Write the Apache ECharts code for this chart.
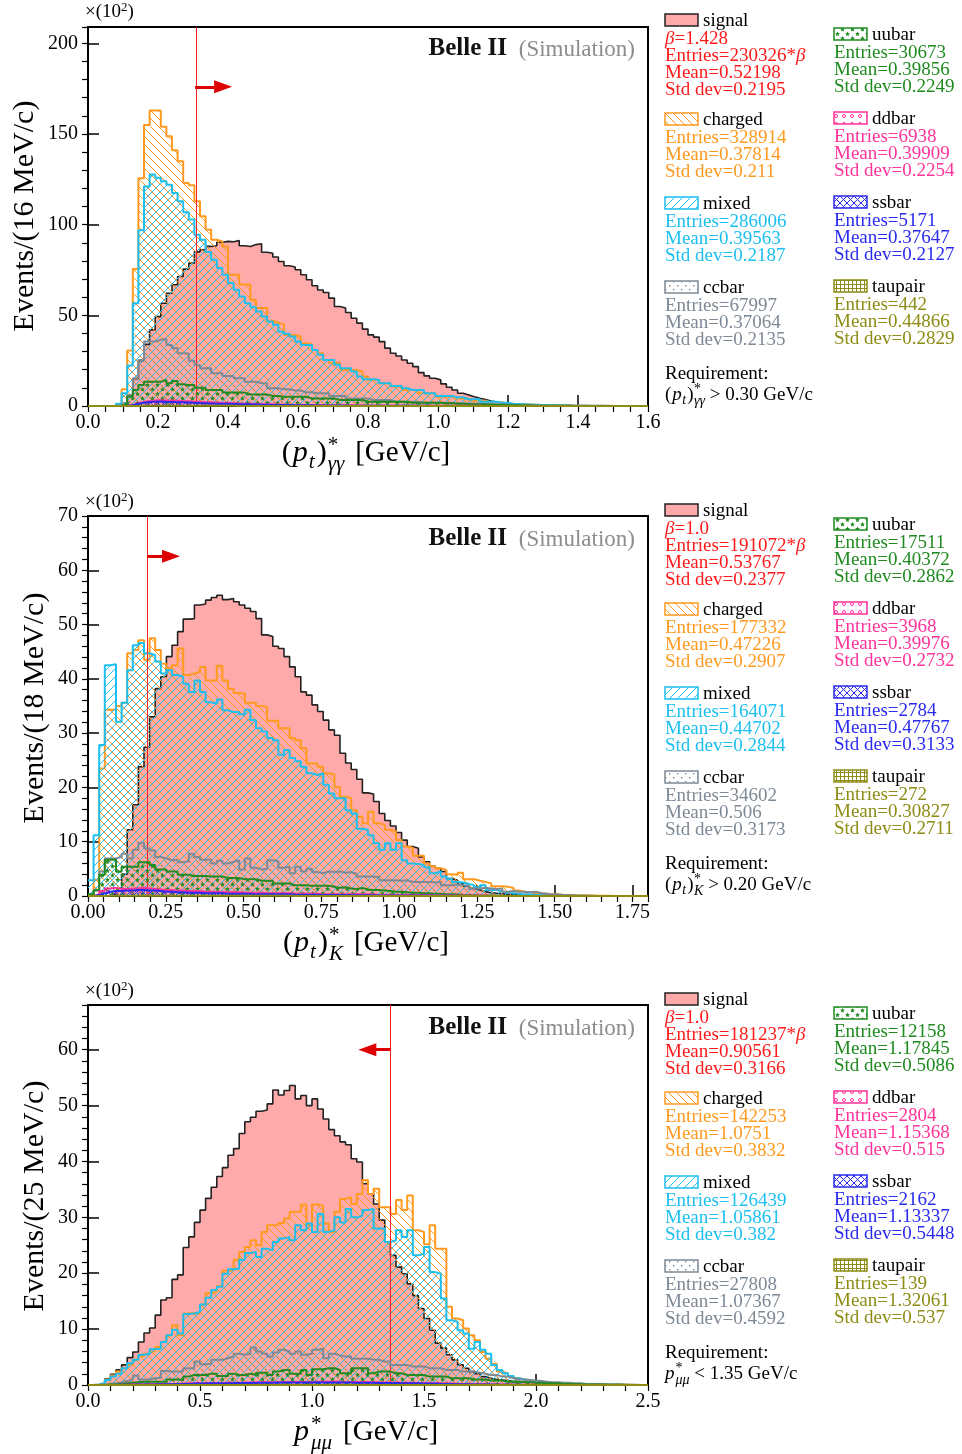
<!DOCTYPE html>
<html><head><meta charset="utf-8">
<script src="https://cdn.jsdelivr.net/npm/echarts@6/dist/echarts.min.js"></script>
<style>html,body{margin:0;padding:0;background:#fff}#c{width:962px;height:1454px}</style>
</head><body><div id="c"></div>
<script>
// ---------------- DATA (values in units of 10^2 events per bin) ----------------
const nBins = 100;
const binWidth = [0.016, 0.018, 0.025];
const xTickLabels1 = ['0.0','0.2','0.4','0.6','0.8','1.0','1.2','1.4','1.6'];
const xTickLabels2 = ['0.00','0.25','0.50','0.75','1.00','1.25','1.50','1.75'];
const xTickLabels3 = ['0.0','0.5','1.0','1.5','2.0','2.5'];
const categories = ['signal','charged','mixed','ccbar','uubar','ddbar','ssbar','taupair'];

// panel 1 : (pt)*_gg
const signal1 = [0,0,0,0,0,0.3,1.5,6,15,25, 34,42,49.3,56.7,62.2,66.9,71.4,75.5,78.8,85, 86.2,88,88.4,90.3,90.8,90.6,91.2,88.4,88,89, 89.5,84.8,84.2,82.2,79.7,77.3,76.6,75.1,72.4,69.6, 66.3,64,62.6,59.5,54.9,54,51.6,48.4,45.7,42.4, 39.2,38,35.5,31.9,29.1,27.6,25.4,23.6,21.7,18.4, 16.6,15.3,14.4,12.2,10.3,8.8,7,6.1,5.1,4.3, 3.6,2.8,2.2,1.6,1.4,1.2,0.9,0.8,0.6,0.5, 0.4,0.35,0.3,0.25,0.2,0.2,0.15,0.1,0.1,0.1, 0.05,0.05,0.05,0.05,0.05,0,0,0,0,0];
const charged1 = [0,0,0,0,0,1,9.2,30.6,75.5,125.6, 155,163,163,154,148.8,141,135,123,121.7,112.9, 104.6,97.2,91.7,90.8,88,72.4,72.4,67,67,58.6, 54,54,47,46,45,39.2,39.2,38.3,34.6,34, 30.9,29.1,25.4,23.9,23.9,19.9,19.9,19.9,19,16.2, 14.4,14.4,12.5,12.5,10.7,10.7,8.8,8.8,8.8,7, 7,7,5.1,5.1,5.1,4.2,4.2,4.2,2.9,2.9, 2.9,2,2,2,1.4,1.2,1,0.9,0.8,0.7, 0.6,0.5,0.4,0.4,0.3,0.3,0.2,0.2,0.2,0.1, 0.1,0.1,0.1,0.05,0.05,0.05,0.05,0,0,0];
const mixed1 = [0,0,0,0,0,1.2,7,22.3,56.7,96.9, 121,127.6,125.8,123.9,122,117.5,112.9,106.8,102.8,94.5, 91.7,84.9,80.7,76.1,72.4,67.8,64.1,60.4,56.7,54.5, 52.1,49.3,46.6,44.8,41,39.8,38.3,35.5,33.7,33.7, 30.9,28.2,25.4,25.4,22.7,20.8,20.8,19,16.2,14.7, 14.7,14.4,12.5,12.5,11,11,9.8,8.8,8.8,8.8, 7,7,5.5,5.5,5.5,4.8,4.8,3.7,3.7,3.7, 2.4,2.4,2.4,1.8,1.8,1.1,1.1,0.9,0.8,0.7, 0.6,0.5,0.4,0.4,0.3,0.3,0.2,0.2,0.15,0.1, 0.1,0.1,0.05,0.05,0.05,0.05,0,0,0,0];
const ccbar1 = [0,0,0,0,0,0.3,1,6,15.3,25.4, 35.5,35.5,36.5,37,33.7,32,29.1,29,25,22.6, 20.8,20.8,18,18,16.6,16.6,15.3,15.3,13.4,13.4, 12.5,12.5,9.8,9.8,9.2,9.2,8.5,8.5,7.6,7.6, 7,7,7,5.5,5.5,5.5,4.2,4.2,4.2,4.2, 3.3,3.3,3.3,3.3,2.4,2.4,2.4,2.4,2.4,1.8, 1.8,1.8,1.8,1.8,1.8,1.5,1.5,1.4,1.3,1.2, 1.1,1,0.9,0.8,0.7,0.6,0.5,0.5,0.4,0.4, 0.3,0.3,0.2,0.2,0.2,0.15,0.1,0.1,0.1,0.05];
const uubar1 = [0,0,0,0,0,0.2,1,5.2,8.8,11.6, 13.4,13.4,13.4,14.4,12.5,13.8,12,11.6,11.6,10.1, 10.1,8.8,8.8,8.8,7.4,7.4,7.4,7.4,6.4,6.4, 6.4,6.4,5.5,5.5,5.1,5.1,5.1,5.1,5.1,4.2, 4.2,4.2,4.2,4.2,3.3,3.3,3.3,3.3,3.3,2.4, 2.4,2.4,2.4,2.4,2.4,2.4,2.4,1.8,1.8,1.8, 1.8,1.8,1.8,1.5,1.5,1.2,1.2,1,1,0.9, 0.8,0.7,0.6,0.5,0.5,0.4,0.4,0.3,0.3,0.2, 0.2,0.2,0.15,0.1,0.1,0.1,0.05,0.05,0.05,0.05];
const ddbar1 = [0,0,0,0,0,0,0.1,0.5,1.5,2.2, 2.8,3.1,3.2,3.1,3,2.9,2.7,2.6,2.4,2.3, 2.1,2,1.9,1.7,1.6,1.5,1.4,1.3,1.2,1.1, 1,0.9,0.9,0.8,0.7,0.7,0.6,0.6,0.5,0.5, 0.4,0.4,0.3,0.3,0.3,0.3,0.3,0.3,0.3,0.3, 0.2,0.2,0.2,0.2,0.2,0.2,0.2,0.2,0.2,0.2, 0.1,0.1,0.1,0.1,0.1,0.1,0.1,0.1,0.1,0.1, 0.05,0.05,0.05,0.05,0.05];
const ssbar1 = [0,0,0,0,0,0,0.1,0.4,1.2,1.8, 2.2,2.4,2.5,2.3,2.2,2.1,2,1.9,1.8,1.6, 1.5,1.4,1.3,1.2,1.2,1.1,1,0.9,0.9,0.8, 0.7,0.7,0.6,0.6,0.5,0.5,0.4,0.4,0.4,0.4, 0.3,0.3,0.3,0.3,0.3,0.3,0.2,0.2,0.2,0.2, 0.2,0.2,0.2,0.1,0.1,0.1,0.1,0.1,0.1,0.1, 0.1,0.05,0.05,0.05,0.05];
const taupair1 = [0,0,0,0,0,0,0,0.02,0.05,0.07, 0.08,0.09,0.09,0.09,0.09,0.08,0.08,0.08,0.08,0.08, 0.07,0.07,0.07,0.07,0.07,0.07,0.06,0.06,0.06,0.06, 0.06,0.06,0.05,0.05,0.05,0.05,0.05,0.05,0.05,0.05, 0.04,0.04,0.04,0.04,0.04,0.04,0.04,0.04,0.03,0.03, 0.03,0.03,0.03,0.03,0.03,0.03,0.02,0.02,0.02,0.02, 0.02,0.02,0.02,0.02,0.01,0.01,0.01,0.01,0.01,0.01];

// panel 2 : (pt)*_K
const signal2 = [0,0,0,0,0.3,1,4,12.2,16.8,23.8, 27.4,33,38.2,40.4,44.1,46.2,48.7,51,51.1,53.6, 53.8,54.5,55,55.4,54.6,54.8,54.2,53.6,53,52.4, 51.1,48.1,47.8,46,45.6,44.1,42.2,40.4,37.6,37, 35.2,34,32.4,30.6,29.6,26.3,24.5,23.3,21.5,19, 18.8,17.4,15.2,13.9,12.9,11.7,10.3,9.1,8.8,7.2, 6.3,5.5,5.1,4.5,3.2,2.9,2.3,1.8,1.4,1.1, 0.8,0.6,0.5,0.4,0.3,0.3,0.2,0.2,0.15,0.1, 0.1,0.1,0.05,0.05,0.05,0.05,0.05];
const charged2 = [0.3,3,23.5,34.3,34.3,35,35.6,44.7,45.3,47.1, 43.5,47.5,45.3,42.8,42,42.5,45.6,40.7,41,41.3, 42.2,39.7,39.7,42.4,39.7,38.2,37.4,37.3,35.6,35.6, 35,34.8,32.3,32.3,30.9,30.9,29.1,28.7,27.2,24.4, 24.4,23.8,22.6,22.4,20.1,18.3,18,15.8,14.6,13.4, 15.5,13.4,13.1,12.2,11.9,10.3,9.1,8.9,7.4,7.4, 6,5.5,5.1,4.8,4,3.9,4.3,3.1,3.1,2.8, 2.6,2.3,1.8,1.8,1.7,1.5,1,0.8,0.7,0.5, 0.5,0.4,0.3,0.3,0.2,0.2,0.15,0.1,0.1,0.1, 0.05,0.05,0.05];
const mixed2 = [2.9,11.2,27.8,42.5,42.7,32.1,35.6,41.6,46.2,46.6, 44.7,44.4,43.2,41,41.6,40.7,40.4,39.1,37.6,39.7, 37.6,35.7,35.4,36.2,34.2,33.9,33.9,33.5,34.3,32.4, 30.9,30.3,29.1,28.7,26,26.9,25.4,24.8,23.8,22.6, 22.3,22.6,20.5,18.9,18,18,15.8,15.2,12.4,12.2, 11.2,9.7,8.5,9.7,8.5,9.7,6.6,6,5.9,5.7, 5.3,4.2,4.5,3.6,3.2,2.6,2.5,2.2,2,1.6, 2,1.1,1.1,0.8,0.6,0.5,0.4,0.3,0.3,0.2, 0.2,0.15,0.1,0.1,0.1,0.05,0.05];
const ccbar2 = [0.3,1.1,4.5,6.9,6.9,7.2,7.8,6.9,8.5,9.8, 8.8,8.4,7.2,6.9,6.6,6.7,6.2,6.4,7.8,7.2, 6.7,6.7,6,6.5,6,6.3,6.6,4.9,6.9,5.2, 4.9,5,6.6,6.4,5.2,5.4,4.2,5.4,4.5,5, 4.4,4.2,4.5,4.4,4.5,4.3,4.4,4.1,3.6,3.6, 3.6,3.5,2.9,2.9,2.9,2.8,2.9,2.6,2.6,2.6, 2.6,2.5,2.6,2,2,2.1,2,1.9,1.4,1.4, 1.5,1.4,1.3,1.4,0.8,0.9,0.8,0.8,0.7,0.8, 0.5,0.4,0.3,0.3,0.2,0.2,0.1,0.1,0.1,0.05];
const uubar2 = [0.3,1,3.9,6.7,6.7,4.5,5.4,5.4,5.4,6.2, 6.2,5.7,4.9,4.9,4.5,4.5,3.9,3.9,3.7,3.7, 3.7,3.6,3.6,3.6,3.3,3.3,3.3,3.1,3.1,3.1, 2.8,2.8,2.8,2.3,2.3,2.3,2,2,2,1.9, 1.9,1.9,1.9,1.7,1.5,1.6,1.4,1.3,1.5,1.2, 1.1,1.1,1,0.9,0.8,0.8,0.7,0.6,0.6,0.5, 0.5,0.4,0.4,0.3,0.3,0.3,0.2,0.2,0.15,0.1, 0.1,0.1,0.05,0.05];
const ddbar2 = [0,0.3,0.9,1.4,1.5,1.3,1.3,1.4,1.4,1.5, 1.4,1.3,1.2,1.1,1.1,1,1,0.9,0.9,0.9, 0.8,0.8,0.8,0.7,0.7,0.7,0.7,0.6,0.6,0.6, 0.6,0.5,0.5,0.5,0.5,0.5,0.4,0.4,0.4,0.4, 0.4,0.3,0.3,0.3,0.3,0.3,0.3,0.3,0.3,0.3, 0.3,0.2,0.2,0.2,0.2,0.2,0.2,0.2,0.2,0.2, 0.2,0.1,0.1,0.1,0.1,0.1,0.1,0.1,0.1,0.1, 0.1];
const ssbar2 = [0,0.2,0.5,0.8,0.9,0.9,1,1,1.1,1.1, 1,1,0.9,0.8,0.8,0.7,0.7,0.6,0.6,0.6, 0.5,0.5,0.5,0.5,0.4,0.4,0.4,0.4,0.4,0.3, 0.3,0.3,0.3,0.3,0.3,0.3,0.25,0.25,0.25,0.25, 0.25,0.2,0.2,0.2,0.2,0.2,0.15,0.15,0.15,0.15, 0.15,0.1,0.1,0.1,0.1,0.1,0.1,0.1,0.1,0.1, 0.1,0.05,0.05,0.05,0.05];
const taupair2 = [0,0,0.02,0.03,0.03,0.04,0.04,0.04,0.04,0.04, 0.04,0.04,0.04,0.04,0.04,0.04,0.04,0.04,0.04,0.04, 0.04,0.03,0.03,0.03,0.03,0.03,0.03,0.03,0.03,0.03, 0.03,0.03,0.03,0.03,0.03,0.03,0.02,0.02,0.02,0.02, 0.02,0.02,0.02,0.02,0.02,0.02,0.02,0.02,0.02,0.02, 0.01,0.01,0.01,0.01,0.01,0.01,0.01,0.01,0.01,0.01];

// panel 3 : p*_mumu
const signal3 = [0,0.1,0.3,1.1,1.9,2.7,3.6,4.9,5.9,7.7, 9.3,10.2,12.5,15.2,15.6,18.9,19.7,24.6,26.5,29.1, 31.3,33.4,35.4,37.3,38.9,41.1,42.3,45,47.1,47.9, 49,49.2,50.3,52.8,51.9,52.7,53.6,51.2,51.8,50, 51.2,49.4,47.6,45.7,44.6,43.5,43,40.5,39.9,36, 34.2,32.4,29.5,25.6,23.2,21.1,19.9,18.1,16,13.7, 11.9,9.8,7.5,6.6,5.4,4.5,3.6,3,2.4,2, 1.5,1.2,1,0.9,0.8,0.6,0.6,0.5,0.5,0.4, 0.4,0.3,0.3,0.3,0.2,0.2,0.2,0.2,0.1,0.1, 0.1,0.1,0.1,0.1,0.1,0.05,0.05,0.05,0.05,0.05];
const charged3 = [0,0.1,0.4,1,1.7,2.4,3,3.6,4.5,5.2, 5.6,6,6.8,7.7,8.9,10.7,8.9,12.8,12.9,12.7, 14.4,16.4,16.7,17.7,20.5,20.5,22.4,23.8,24.7,25.9, 25,27.4,28.6,28.6,29,29.8,31,31,32.3,28.6, 32.3,32.1,28.9,27.4,31,33.3,33.6,32.4,34.2,36.7, 34.2,35.1,31.8,31.8,30.6,33.1,31.3,33.9,27.7,27.4, 25.2,28.6,24.4,24.4,14,11.9,11.6,10.1,8.9,8, 5.9,4.7,3.8,2.4,2.1,1.6,1.2,1,0.8,0.6, 0.5,0.4,0.3,0.3,0.2,0.2,0.15,0.1,0.1,0.1, 0.1,0.05,0.05,0.05,0.05,0.05,0.05,0,0,0];
const mixed3 = [0,0.1,0.3,0.9,1.5,2,3,3.9,4.5,5.4, 5.6,6.4,6.5,7.7,8.9,9.9,9.2,12.7,12.8,13.1, 14.4,15.6,17,17.6,19.9,20.7,20.8,22.4,23.6,23.8, 22.9,24.4,24.1,25.6,26.2,26.5,25.9,28.6,27.7,28.9, 27.4,30.6,27.4,27.7,30,29.1,31.5,30,30.3,31.3, 31.5,28,28,25.6,25.9,27.7,26.5,27.7,23.2,23.5, 24.7,20.2,19.9,15.5,11.6,11.3,9.8,9.2,6.5,7.7, 6.3,5.6,3.6,2.7,2.1,1.6,1.2,1,0.8,0.6, 0.5,0.4,0.3,0.3,0.2,0.2,0.15,0.1,0.1,0.1, 0.05,0.05,0.05,0.05,0.05,0,0,0,0,0];
const ccbar3 = [0,0,0.1,0.2,0.3,0.5,0.7,1,1.7,1, 1,1.2,1.3,2.5,2.4,2.4,2.4,3,3,4.2, 3.7,3.8,4.5,4.5,4.8,5.1,5.6,5.4,5.6,6.7, 6,5.6,5.1,5.8,6.3,6,5.6,6,5.4,5.6, 6.3,6.5,4.8,5.6,5.3,5.1,5.1,4.7,4.7,4.7, 4.5,4.5,4.2,4.2,3.6,3.6,3.6,3.3,3.3,3.3, 3,3,3,2.7,2.7,2.7,2.4,2.4,2.4,2.2, 2,1.8,1.8,1.5,1.5,1.2,1,1,0.9,0.8, 0.7,0.6,0.5,0.5,0.4,0.4,0.3,0.3,0.2,0.2, 0.2,0.15,0.1,0.1,0.1,0.05,0.05,0.05,0,0];
const uubar3 = [0,0,0,0.1,0.1,0.2,0.3,0.4,0.5,0.6, 0.6,0.6,0.6,0.6,1,1,1,1.5,1.8,1.8, 1.8,2,2,1.6,1.6,2,1.8,1.8,2,1.8, 2.2,2.2,1.8,2.4,2.7,2.7,2,2,2.7,1.8, 2.8,2.8,3,3,2.7,2.1,2.1,3,3,3, 2.1,2.4,2.4,2.4,2.1,2.1,1.8,1.8,1.8,1.8, 1.5,1.5,1.5,1.5,1.2,1.2,1.2,1.2,1,1, 1,0.8,0.8,0.8,0.6,0.6,0.6,0.5,0.5,0.4, 0.4,0.3,0.3,0.3,0.2,0.2,0.2,0.15,0.1,0.1, 0.1,0.1,0.05,0.05,0.05,0.05,0,0,0,0];
const ddbar3 = [0,0,0,0,0,0.05,0.05,0.1,0.1,0.1, 0.15,0.15,0.15,0.2,0.2,0.2,0.25,0.25,0.3,0.3, 0.3,0.35,0.35,0.35,0.4,0.4,0.4,0.45,0.45,0.45, 0.5,0.5,0.5,0.5,0.55,0.55,0.55,0.55,0.55,0.55, 0.6,0.6,0.6,0.6,0.6,0.55,0.55,0.55,0.55,0.5, 0.5,0.5,0.45,0.45,0.45,0.4,0.4,0.4,0.35,0.35, 0.3,0.3,0.3,0.25,0.25,0.2,0.2,0.2,0.15,0.15, 0.15,0.1,0.1,0.1,0.1,0.05,0.05,0.05,0.05,0.05];
const ssbar3 = [0,0,0,0,0,0.05,0.05,0.05,0.1,0.1, 0.1,0.1,0.15,0.15,0.15,0.2,0.2,0.2,0.25,0.25, 0.25,0.3,0.3,0.3,0.3,0.35,0.35,0.35,0.35,0.4, 0.4,0.4,0.4,0.45,0.45,0.45,0.45,0.45,0.45,0.45, 0.5,0.45,0.45,0.45,0.45,0.45,0.45,0.4,0.4,0.4, 0.4,0.35,0.35,0.35,0.35,0.3,0.3,0.3,0.3,0.25, 0.25,0.25,0.2,0.2,0.2,0.15,0.15,0.15,0.1,0.1, 0.1,0.1,0.05,0.05,0.05,0.05,0.05];
const taupair3 = [0,0,0,0,0,0,0,0,0,0, 0.01,0.01,0.01,0.01,0.01,0.01,0.01,0.01,0.01,0.01, 0.01,0.01,0.01,0.01,0.01,0.01,0.02,0.02,0.02,0.02, 0.02,0.02,0.02,0.02,0.02,0.02,0.02,0.02,0.02,0.02, 0.02,0.02,0.02,0.02,0.02,0.02,0.02,0.02,0.02,0.02, 0.02,0.02,0.02,0.02,0.02,0.02,0.02,0.02,0.02,0.02, 0.02,0.02,0.02,0.02,0.01,0.01,0.01,0.01,0.01,0.01, 0.01,0.01,0.01,0.01,0.01,0.01,0.01,0.01,0.01,0.01];

// statistics boxes
const beta = ['1.428', '1.0', '1.0'];
const entries1 = ['230326','328914','286006','67997','30673','6938','5171','442'];
const means1   = ['0.52198','0.37814','0.39563','0.37064','0.39856','0.39909','0.37647','0.44866'];
const stds1    = ['0.2195','0.211','0.2187','0.2135','0.2249','0.2254','0.2127','0.2829'];
const entries2 = ['191072','177332','164071','34602','17511','3968','2784','272'];
const means2   = ['0.53767','0.47226','0.44702','0.506','0.40372','0.39976','0.47767','0.30827'];
const stds2    = ['0.2377','0.2907','0.2844','0.3173','0.2862','0.2732','0.3133','0.2711'];
const entries3 = ['181237','142253','126439','27808','12158','2804','2162','139'];
const means3   = ['0.90561','1.0751','1.05861','1.07367','1.17845','1.15368','1.13337','1.32061'];
const stds3    = ['0.3166','0.3832','0.382','0.4592','0.5086','0.515','0.5448','0.537'];
const cuts = [0.306, 0.19, 1.35];
const cutText = ['0.30', '0.20', '1.35'];
const yTitles = ['Events/(16 MeV/c)', 'Events/(18 MeV/c)', 'Events/(25 MeV/c)'];

// ---------------- STYLE ----------------
const FAM = '"Liberation Serif","DejaVu Serif",serif';
const COL = {signal:'#ff1a1a', charged:'#ff9a1f', mixed:'#1bbff0', ccbar:'#7d8995', uubar:'#1f8a1f', ddbar:'#ff3399', ssbar:'#2a2af0', taupair:'#8c8c14'};

function mkTile(w, h, draw) {
  const c = document.createElement('canvas'); c.width = w; c.height = h;
  const g = c.getContext('2d'); draw(g, w, h); return {image: c, repeat: 'repeat'};
}
const PAT = {
  signal: '#ffaaaa',
  charged: mkTile(8, 8, (g, w, h) => { g.strokeStyle = COL.charged; g.lineWidth = 1; g.beginPath(); for (let k = -1; k <= 1; k++) { g.moveTo(k*w, 0); g.lineTo(k*w + w, h); } g.stroke(); }),
  mixed: mkTile(8, 8, (g, w, h) => { g.strokeStyle = COL.mixed; g.lineWidth = 1; g.beginPath(); for (let k = -1; k <= 1; k++) { g.moveTo(k*w, h); g.lineTo(k*w + w, 0); } g.stroke(); }),
  ccbar: mkTile(8, 8, (g) => { g.fillStyle = COL.ccbar; g.fillRect(1, 1, 1.4, 1.4); g.fillRect(5, 5, 1.4, 1.4); }),
  uubar: mkTile(10, 9, (g) => {
    g.fillStyle = COL.uubar;
    const star = (cx, cy, r) => { g.beginPath(); for (let k = 0; k < 10; k++) { const a = -Math.PI/2 + k*Math.PI/5; const rr = k % 2 ? r*0.45 : r; g.lineTo(cx + rr*Math.cos(a), cy + rr*Math.sin(a)); } g.closePath(); g.fill(); };
    star(2.5, 2.5, 2.6); star(7.5, 7, 2.6);
  }),
  ddbar: mkTile(8, 8, (g) => { g.strokeStyle = COL.ddbar; g.lineWidth = 1; g.beginPath(); g.arc(4, 4, 1.5, 0, Math.PI*2); g.stroke(); }),
  ssbar: mkTile(7, 7, (g, w, h) => { g.strokeStyle = COL.ssbar; g.lineWidth = 1; g.beginPath(); for (let k = -1; k <= 1; k++) { g.moveTo(k*w, 0); g.lineTo(k*w + w, h); g.moveTo(k*w, h); g.lineTo(k*w + w, 0); } g.stroke(); }),
  taupair: mkTile(4, 4, (g) => { g.fillStyle = COL.taupair; g.fillRect(0, 0, 4, 1); g.fillRect(0, 0, 1, 4); })
};

const panels = [
  { top: 27, h: 379, xmax: 1.6, ymax: 209, xInt: 0.2, xMin: 0.05, yInt: 50, yMin: 10, xLab: xTickLabels1,
    data: [signal1, charged1, mixed1, ccbar1, uubar1, ddbar1, ssbar1, taupair1], ent: entries1, mean: means1, std: stds1,
    arrowY: 176, arrowDx: 0.08, showMaxY: false, showMaxX: true, ytx: 25, yty: 216 },
  { top: 516, h: 380, xmax: 1.8, ymax: 70, xInt: 0.25, xMin: 0.05, yInt: 10, yMin: 2, xLab: xTickLabels2,
    data: [signal2, charged2, mixed2, ccbar2, uubar2, ddbar2, ssbar2, taupair2], ent: entries2, mean: means2, std: stds2,
    arrowY: 62.6, arrowDx: 0.077, showMaxY: true, showMaxX: false, ytx: 35, yty: 708 },
  { top: 1005, h: 380, xmax: 2.5, ymax: 68, xInt: 0.5, xMin: 0.1, yInt: 10, yMin: 2, xLab: xTickLabels3,
    data: [signal3, charged3, mixed3, ccbar3, uubar3, ddbar3, ssbar3, taupair3], ent: entries3, mean: means3, std: stds3,
    arrowY: 60, arrowDx: -0.103, showMaxY: false, showMaxX: true, ytx: 35, yty: 1196 }
];

function histPoints(vals, bw) {
  const pts = [];
  for (let i = 0; i < nBins; i++) pts.push([+(i*bw).toFixed(6), vals[i] || 0]);
  pts.push([+(nBins*bw).toFixed(6), vals[nBins-1] || 0]);
  return pts;
}

// text helpers
const mctx = document.createElement('canvas').getContext('2d');
function fstr(s) { return (s.i ? 'italic ' : '') + (s.b ? 'bold ' : '') + s.s + 'px ' + FAM; }
const R = (t, s, o) => Object.assign({t, s}, o || {});
const I = (t, s, o) => Object.assign({t, s, i: true}, o || {});
function mathText(segs, x, base, anchor, color) {
  const ws = segs.map(s => { mctx.font = fstr(s); return mctx.measureText(s.t).width; });
  let total = 0; segs.forEach((s, k) => { if (!s.na) total += ws[k] + (s.g || 0); });
  let cx = anchor === 'center' ? x - total/2 : x;
  const out = [];
  segs.forEach((s, k) => {
    out.push({type: 'text', silent: true, x: cx, y: base - 0.3*s.s + (s.dy || 0),
      style: {text: s.t, font: fstr(s), fill: s.c || color, align: 'left', verticalAlign: 'middle'}});
    if (!s.na) cx += ws[k] + (s.g || 0);
  });
  return out;
}

const graphics = [];
const series = [];
const grids = [], xAxes = [], yAxes = [];
const LF = 19; // legend font size

panels.forEach((P, p) => {
  const off = [0, 490, 979][p];
  grids.push({left: 88, top: P.top, width: 560, height: P.h, show: true, borderColor: '#000', borderWidth: 2, backgroundColor: 'transparent', outerBoundsMode: 'none', containLabel: false});
  const lab = {fontFamily: FAM, fontSize: 20, color: '#000'};
  xAxes.push({type: 'value', gridIndex: p, min: 0, max: P.xmax, interval: P.xInt,
    axisLine: {show: true, onZero: false, lineStyle: {color: '#000', width: 2}},
    axisTick: {show: true, inside: true, length: 11, lineStyle: {color: '#000', width: 1.5}},
    axisLabel: Object.assign({margin: 7, showMaxLabel: P.showMaxX, showMinLabel: true, hideOverlap: false,
      formatter: v => { const k = Math.round(v / P.xInt); return P.xLab[k] !== undefined && Math.abs(k*P.xInt - v) < 1e-6 ? P.xLab[k] : ''; }}, lab),
    splitLine: {show: false}});
  xAxes.push({type: 'value', gridIndex: p, min: 0, max: P.xmax, interval: P.xMin,
    axisLine: {show: false}, axisTick: {show: true, inside: true, length: 6, lineStyle: {color: '#000', width: 1.2}},
    axisLabel: {show: false}, splitLine: {show: false}});
  yAxes.push({type: 'value', gridIndex: p, min: 0, max: P.ymax, interval: P.yInt,
    axisLine: {show: true, onZero: false, lineStyle: {color: '#000', width: 2}},
    axisTick: {show: true, inside: true, length: 11, lineStyle: {color: '#000', width: 1.5}},
    axisLabel: Object.assign({margin: 10, showMaxLabel: P.showMaxY, hideOverlap: false, formatter: v => String(Math.round(v))}, lab),
    splitLine: {show: false}});
  yAxes.push({type: 'value', gridIndex: p, min: 0, max: P.ymax, interval: P.yMin,
    axisLine: {show: false}, axisTick: {show: true, inside: true, length: 6, lineStyle: {color: '#000', width: 1.2}},
    axisLabel: {show: false}, splitLine: {show: false}});

  const bw = binWidth[p];
  categories.forEach((name, k) => {
    const isSig = name === 'signal';
    series.push({
      name: name + p, type: 'line', xAxisIndex: 2*p, yAxisIndex: 2*p, step: 'end', symbol: 'none', showSymbol: false,
      silent: true, animation: false, z: 2 + k,
      data: histPoints(P.data[k], bw),
      lineStyle: {color: isSig ? '#222' : COL[name], width: isSig ? 1.6 : 2},
      areaStyle: {color: PAT[name], opacity: 1, origin: 'start'}
    });
  });
  // cut line
  series.push({type: 'line', xAxisIndex: 2*p, yAxisIndex: 2*p, data: [], silent: true, animation: false, z: 20,
    markLine: {silent: true, animation: false, symbol: ['none', 'none'], label: {show: false},
      lineStyle: {color: '#ff2020', width: 1, type: 'solid'}, data: [{xAxis: cuts[p]}]}});
  // arrow
  series.push({type: 'line', xAxisIndex: 2*p, yAxisIndex: 2*p, data: [], silent: true, animation: false, z: 21,
    markLine: {silent: true, animation: false, symbol: ['none', 'triangle'], symbolSize: [13, 18], label: {show: false},
      lineStyle: {color: '#dd0000', width: 3, type: 'solid', opacity: 1},
      data: [[{coord: [cuts[p], P.arrowY]}, {coord: [cuts[p] + P.arrowDx, P.arrowY]}]]}});

  // ----- texts -----
  graphics.push(...mathText([R('×(10', 19), R('2', 13, {dy: -7}), R(')', 19)], 85, 18 + off, 'left', '#000'));
  graphics.push({type: 'text', silent: true, x: 507, y: 49 + off, style: {text: 'Belle II', font: 'bold 25px ' + FAM, fill: '#111', align: 'right', verticalAlign: 'middle'}});
  graphics.push({type: 'text', silent: true, x: 635, y: 50 + off, style: {text: '(Simulation)', font: '23px ' + FAM, fill: '#8c8c8c', align: 'right', verticalAlign: 'middle'}});
  graphics.push({type: 'text', silent: true, x: P.ytx, y: P.yty, rotation: Math.PI/2,
    style: {text: yTitles[p], font: '30px ' + FAM, fill: '#000', align: 'center', verticalAlign: 'middle'}});
  let xt, rq;
  if (p === 0) {
    xt = [R('(', 30, {g: 1}), I('p', 30, {g: 1}), I('t', 21, {dy: 7, g: 2}), R(')', 30, {g: 1}), R('*', 21, {dy: -10, na: true}), I('γγ', 21, {dy: 9, g: 11}), R('[GeV/c]', 29)];
    rq = [R('(', 19, {g: 1}), I('p', 19, {g: 0.5}), I('t', 14, {dy: 4, g: 1}), R(')', 19, {g: 0.5}), R('*', 14, {dy: -7, na: true}), I('γγ', 14, {dy: 5}), R(' > ' + cutText[p] + ' GeV/c', 19)];
  } else if (p === 1) {
    xt = [R('(', 30, {g: 1}), I('p', 30, {g: 1}), I('t', 21, {dy: 7, g: 2}), R(')', 30, {g: 1}), R('*', 21, {dy: -10, na: true}), I('K', 21, {dy: 9, g: 11}), R('[GeV/c]', 29)];
    rq = [R('(', 19, {g: 1}), I('p', 19, {g: 0.5}), I('t', 14, {dy: 4, g: 1}), R(')', 19, {g: 0.5}), R('*', 14, {dy: -7, na: true}), I('K', 14, {dy: 5}), R(' > ' + cutText[p] + ' GeV/c', 19)];
  } else {
    xt = [I('p', 30, {g: 2}), R('*', 21, {dy: -10, na: true}), I('μμ', 21, {dy: 9, g: 11}), R('[GeV/c]', 29)];
    rq = [I('p', 19, {g: 1}), R('*', 14, {dy: -7, na: true}), I('μμ', 14, {dy: 5}), R(' < ' + cutText[p] + ' GeV/c', 19)];
  }
  graphics.push(...mathText(xt, 366, 462 + off, 'center', '#000'));
  graphics.push({type: 'text', silent: true, x: 665, y: 374 + off, style: {text: 'Requirement:', font: LF + 'px ' + FAM, fill: '#000', align: 'left', verticalAlign: 'middle'}});
  graphics.push(...mathText(rq, 665, 401 + off, 'left', '#000'));

  // legend blocks
  const leftY = [20, 119, 203, 287], rightY = [34, 118, 202, 286];
  categories.forEach((name, k) => {
    const left = k < 4;
    const sx = left ? 665 : 834;
    const ly = (left ? leftY[k] : rightY[k - 4]) + off;
    const col = COL[name];
    graphics.push({type: 'rect', silent: true, shape: {x: sx, y: ly - 6, width: 33, height: 12},
      style: {fill: PAT[name], stroke: name === 'signal' ? '#222' : col, lineWidth: 1.5}});
    graphics.push({type: 'text', silent: true, x: sx + 38, y: ly + 1, style: {text: name, font: LF + 'px ' + FAM, fill: '#000', align: 'left', verticalAlign: 'middle'}});
    let yy = ly + 18;
    const lines = [];
    if (name === 'signal') {
      lines.push([I('β', LF), R('=' + beta[p], LF)]);
      lines.push([R('Entries=' + P.ent[k] + '*', LF), I('β', LF)]);
    } else {
      lines.push([R('Entries=' + P.ent[k], LF)]);
    }
    lines.push([R('Mean=' + P.mean[k], LF)]);
    lines.push([R('Std dev=' + P.std[k], LF)]);
    lines.forEach(segs => { graphics.push(...mathText(segs, sx, yy + 7, 'left', col)); yy += 17; });
  });
});

const chart = echarts.init(document.getElementById('c'), null, {renderer: 'canvas', width: 962, height: 1454});
chart.setOption({
  animation: false,
  backgroundColor: '#fff',
  grid: grids, xAxis: xAxes, yAxis: yAxes, series: series,
  graphic: {elements: graphics}
});
</script></body></html>
